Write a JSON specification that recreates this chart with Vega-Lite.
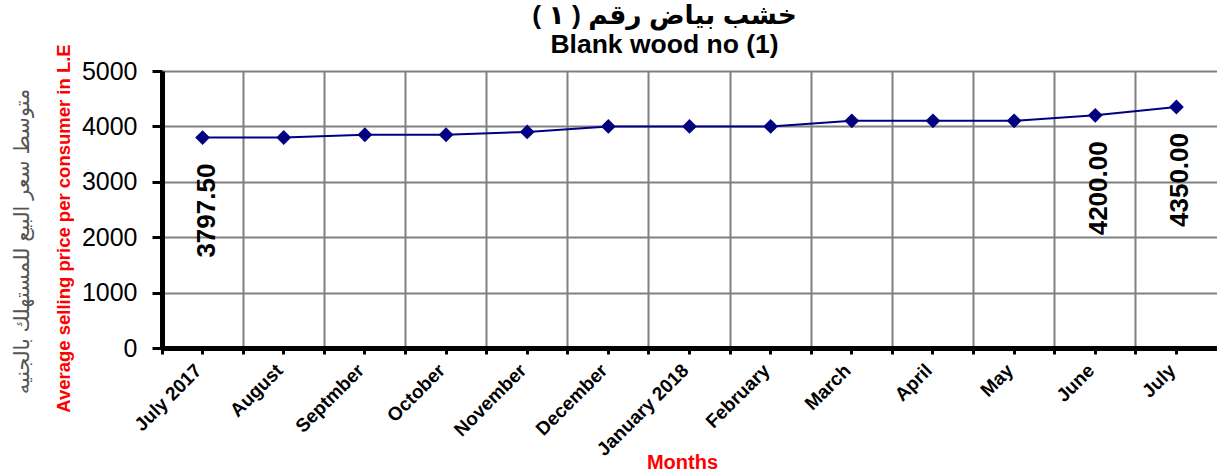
{
  "$schema": "https://vega.github.io/schema/vega-lite/v6.json",
  "width": 1055,
  "height": 277,
  "autosize": "none",
  "padding": {"left": 162, "top": 71, "right": 0, "bottom": 125},
  "background": "white",
  "config": {
    "view": {"stroke": null},
    "font": "Liberation Sans, DejaVu Sans, sans-serif"
  },
  "title": {
    "text": ["خشب بياض رقم ( ١ )", "Blank wood no (1)"],
    "fontSize": 26.5,
    "fontWeight": "bold",
    "color": "black",
    "anchor": "middle",
    "dx": -25,
    "dy": 25,
    "offset": 10,
    "lineHeight": 29
  },
  "data": {
    "values": [
      {"month": "July 2017", "price": 3797.5},
      {"month": "August", "price": 3800},
      {"month": "Septmber", "price": 3850},
      {"month": "October", "price": 3850},
      {"month": "November", "price": 3900},
      {"month": "December", "price": 4000},
      {"month": "January 2018", "price": 4000},
      {"month": "February", "price": 4000},
      {"month": "March", "price": 4100},
      {"month": "April", "price": 4100},
      {"month": "May", "price": 4100},
      {"month": "June", "price": 4200},
      {"month": "July", "price": 4350}
    ]
  },
  "layer": [
    {
      "mark": {"type": "line", "color": "#000080", "strokeWidth": 2},
      "encoding": {
        "x": {
          "field": "month", "type": "nominal", "sort": null, "bandPosition": 0.5,
          "scale": {"type": "band", "paddingInner": 0, "paddingOuter": 0},
          "axis": {
            "orient": "bottom",
            "title": "Months",
            "titleColor": "red",
            "titleFontSize": 20,
            "titleFontWeight": "bold",
            "titleX": 520,
            "titleY": 120,
            "titleAlign": "center",
            "titleBaseline": "alphabetic",
            "labelAngle": -45,
            "labelFontSize": 19,
            "labelFontWeight": "bold",
            "labelColor": "black",
            "labelBaseline": "middle",
            "labelPadding": 13,
            "labelOffset": -4,
            "labelOverlap": false,
            "ticks": true,
            "tickColor": "black",
            "tickWidth": 3,
            "tickSize": 6,
            "bandPosition": 0.5,
            "domainColor": "black",
            "domainWidth": 5,
            "grid": false
          }
        },
        "y": {
          "field": "price", "type": "quantitative",
          "scale": {"domain": [0, 5000]},
          "axis": {
            "orient": "left",
            "title": "Average selling price per consumer in L.E",
            "titleColor": "red",
            "titleFontSize": 18.5,
            "titleFontWeight": "bold",
            "titleX": -99,
            "titleY": 157,
            "titleAlign": "center",
            "titleBaseline": "middle",
            "values": [0, 1000, 2000, 3000, 4000, 5000],
            "format": "d",
            "labelFontSize": 25,
            "labelColor": "black",
            "labelPadding": 15,
            "tickSize": 10,
            "tickWidth": 3,
            "tickColor": "black",
            "domainColor": "black",
            "domainWidth": 5,
            "grid": true,
            "gridColor": "#808080",
            "gridWidth": 2
          }
        }
      }
    },
    {
      "mark": {"type": "point", "shape": "diamond", "filled": true, "color": "#000080", "size": 220, "opacity": 1},
      "encoding": {
        "x": {"field": "month", "type": "nominal", "sort": null, "bandPosition": 0.5, "axis": null},
        "y": {"field": "price", "type": "quantitative", "axis": null}
      }
    },
    {
      "transform": [{"filter": {"field": "month", "oneOf": ["July 2017", "June", "July"]}}],
      "mark": {"type": "text", "angle": 270, "align": "right", "baseline": "middle", "dx": -26, "dy": 4, "fontSize": 26, "fontWeight": "bold", "color": "black"},
      "encoding": {
        "x": {
          "field": "month", "type": "nominal", "sort": null, "bandPosition": 0.5,
          "axis": {
            "orient": "bottom",
            "title": null,
            "labels": false,
            "domain": false,
            "ticks": true,
            "tickColor": "black",
            "tickWidth": 3,
            "tickSize": 6,
            "bandPosition": 0,
            "grid": true,
            "gridColor": "#808080",
            "gridWidth": 2
          }
        },
        "y": {
          "field": "price", "type": "quantitative",
          "axis": {
            "orient": "left",
            "title": "متوسط سعر البيع للمستهلك بالجنيه",
            "titleColor": "#555555",
            "titleFontSize": 21,
            "titleFontWeight": "normal",
            "titleX": -140,
            "titleY": 170,
            "titleAlign": "center",
            "titleBaseline": "middle",
            "labels": false,
            "ticks": false,
            "domain": false,
            "grid": false
          }
        },
        "text": {"field": "price", "type": "quantitative", "format": ".2f"}
      }
    }
  ],
  "resolve": {"axis": {"x": "independent", "y": "independent"}}
}
